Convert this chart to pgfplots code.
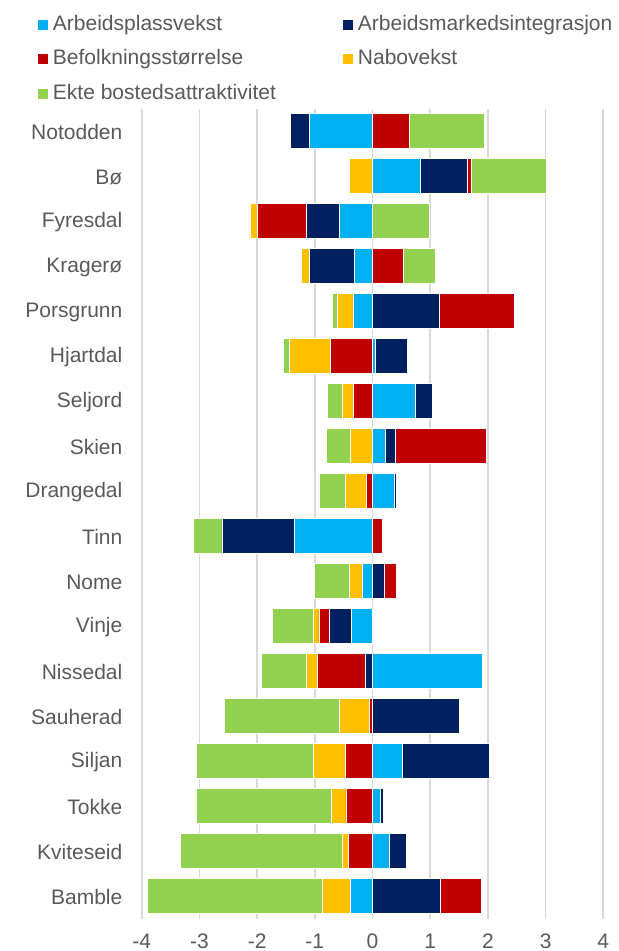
\documentclass[border=0pt]{standalone}
\usepackage{fontspec}
\setmainfont{Liberation Sans}
\usepackage{pgfplots}
\usepackage{pgfplotstable}
\pgfplotsset{compat=1.18}
\definecolor{cA}{HTML}{00B0F0}
\definecolor{cB}{HTML}{002060}
\definecolor{cC}{HTML}{C00000}
\definecolor{cD}{HTML}{FFC000}
\definecolor{cE}{HTML}{92D050}
\definecolor{gridc}{HTML}{D9D9D9}
\definecolor{textc}{HTML}{595959}
\pgfplotsset{sqlegend/.style={legend image code/.code={\fill[##1, draw=none] (0pt,-2.5pt) rectangle (5pt,2.5pt);}}}

% positive parts
\pgfplotstableread{
y a b c d e
0 0 0 0.63 0 1.31
1 0.83 0.81 0.08 0 1.29
2 0 0 0 0 0.99
3 0 0 0.53 0 0.55
4 0 1.15 1.31 0 0
5 0.04 0.56 0 0 0
6 0.75 0.28 0 0 0
7 0.22 0.17 1.59 0 0
8 0.37 0.05 0 0 0
9 0 0 0.17 0.02 0
10 0 0.20 0.21 0 0
11 0 0 0 0 0
12 1.91 0 0 0 0
13 0 1.51 0 0 0
14 0.51 1.51 0 0 0
15 0.13 0.05 0 0 0
16 0.29 0.29 0 0 0
17 0 1.17 0.72 0 0
}\pos
% negative parts
\pgfplotstableread{
y a b c d e
0 -1.09 -0.33 0 0 0
1 0 0 0 -0.41 0
2 -0.57 -0.58 -0.85 -0.11 0
3 -0.31 -0.78 0 -0.14 0
4 -0.33 0 0 -0.28 -0.08
5 0 0 -0.73 -0.71 -0.10
6 0 0 -0.33 -0.20 -0.25
7 0 0 0 -0.38 -0.42
8 0 0 -0.10 -0.37 -0.46
9 -1.36 -1.25 0 0 -0.49
10 -0.18 0 0 -0.22 -0.61
11 -0.36 -0.39 -0.18 -0.10 -0.70
12 0 -0.12 -0.83 -0.20 -0.77
13 0 0 -0.06 -0.52 -1.98
14 0 0 -0.47 -0.56 -2.02
15 0 0 -0.46 -0.25 -2.35
16 0 0 -0.42 -0.11 -2.80
17 -0.38 0 0 -0.49 -3.03
}\neg

\pgfplotsset{common/.style={
  at={(70.85pt,-459.25pt)}, anchor=south west,
  scale only axis, width=230.8pt, height=405pt,
  xbar stacked, bar width=17.35pt,
  xmin=-4, xmax=4, ymin=-0.5, ymax=17.5, y dir=reverse,
}}

\begin{document}
\begin{tikzpicture}
\begin{axis}[common,
  xtick={-4,-3,-2,-1,0,1,2,3,4},
  ytick={0,1,...,17},
  yticklabels={Notodden,Bø,Fyresdal,Kragerø,Porsgrunn,Hjartdal,Seljord,Skien,Drangedal,Tinn,Nome,Vinje,Nissedal,Sauherad,Siljan,Tokke,Kviteseid,Bamble},
  xmajorgrids, grid style={color=gridc, line width=0.85pt},
  axis line style={draw=none}, major tick length=0pt,
  /pgf/number format/assume math mode=true,
  tick label style={font=\fontsize{10.5}{12}\selectfont, text=textc},
  xticklabel style={inner sep=0pt, anchor=north, yshift=-7.4pt},
  yticklabel style={inner sep=0pt, anchor=east, xshift=-9.5pt, yshift=-0.5pt},
  legend columns=2,
  legend cell align=left,
  legend style={draw=none, fill=none, inner sep=0pt, outer sep=0pt,
    at={(-0.2247,1.1164)}, anchor=north west,
    font=\fontsize{10.5}{12}\selectfont, text=textc,
    nodes={inner sep=0pt, text height=7.9pt, text depth=2.6pt},
    row sep=6.75pt,
    /tikz/column 2/.style={column sep=33.5pt},
    /tikz/column 1/.style={column sep=2.5pt},
    /tikz/column 3/.style={column sep=2.5pt}},
]
\addplot[fill=cA, draw=white, line width=0.3pt, sqlegend] table[x=a, y=y] {\pos};
\addlegendentry{Arbeidsplassvekst}
\addplot[fill=cB, draw=white, line width=0.3pt, sqlegend] table[x=b, y=y] {\pos};
\addlegendentry{Arbeidsmarkedsintegrasjon}
\addplot[fill=cC, draw=white, line width=0.3pt, sqlegend] table[x=c, y=y] {\pos};
\addlegendentry{Befolkningsstørrelse}
\addplot[fill=cD, draw=white, line width=0.3pt, sqlegend] table[x=d, y=y] {\pos};
\addlegendentry{Nabovekst}
\addplot[fill=cE, draw=white, line width=0.3pt, sqlegend] table[x=e, y=y] {\pos};
\addlegendentry{Ekte bostedsattraktivitet}
\end{axis}
\begin{axis}[common, hide axis]
\addplot[fill=cA, draw=white, line width=0.3pt] table[x=a, y=y] {\neg};
\addplot[fill=cB, draw=white, line width=0.3pt] table[x=b, y=y] {\neg};
\addplot[fill=cC, draw=white, line width=0.3pt] table[x=c, y=y] {\neg};
\addplot[fill=cD, draw=white, line width=0.3pt] table[x=d, y=y] {\neg};
\addplot[fill=cE, draw=white, line width=0.3pt] table[x=e, y=y] {\neg};
\end{axis}
\pgfresetboundingbox
\useasboundingbox (0,0) rectangle (309.5pt,-475.5pt);
\end{tikzpicture}
\end{document}
